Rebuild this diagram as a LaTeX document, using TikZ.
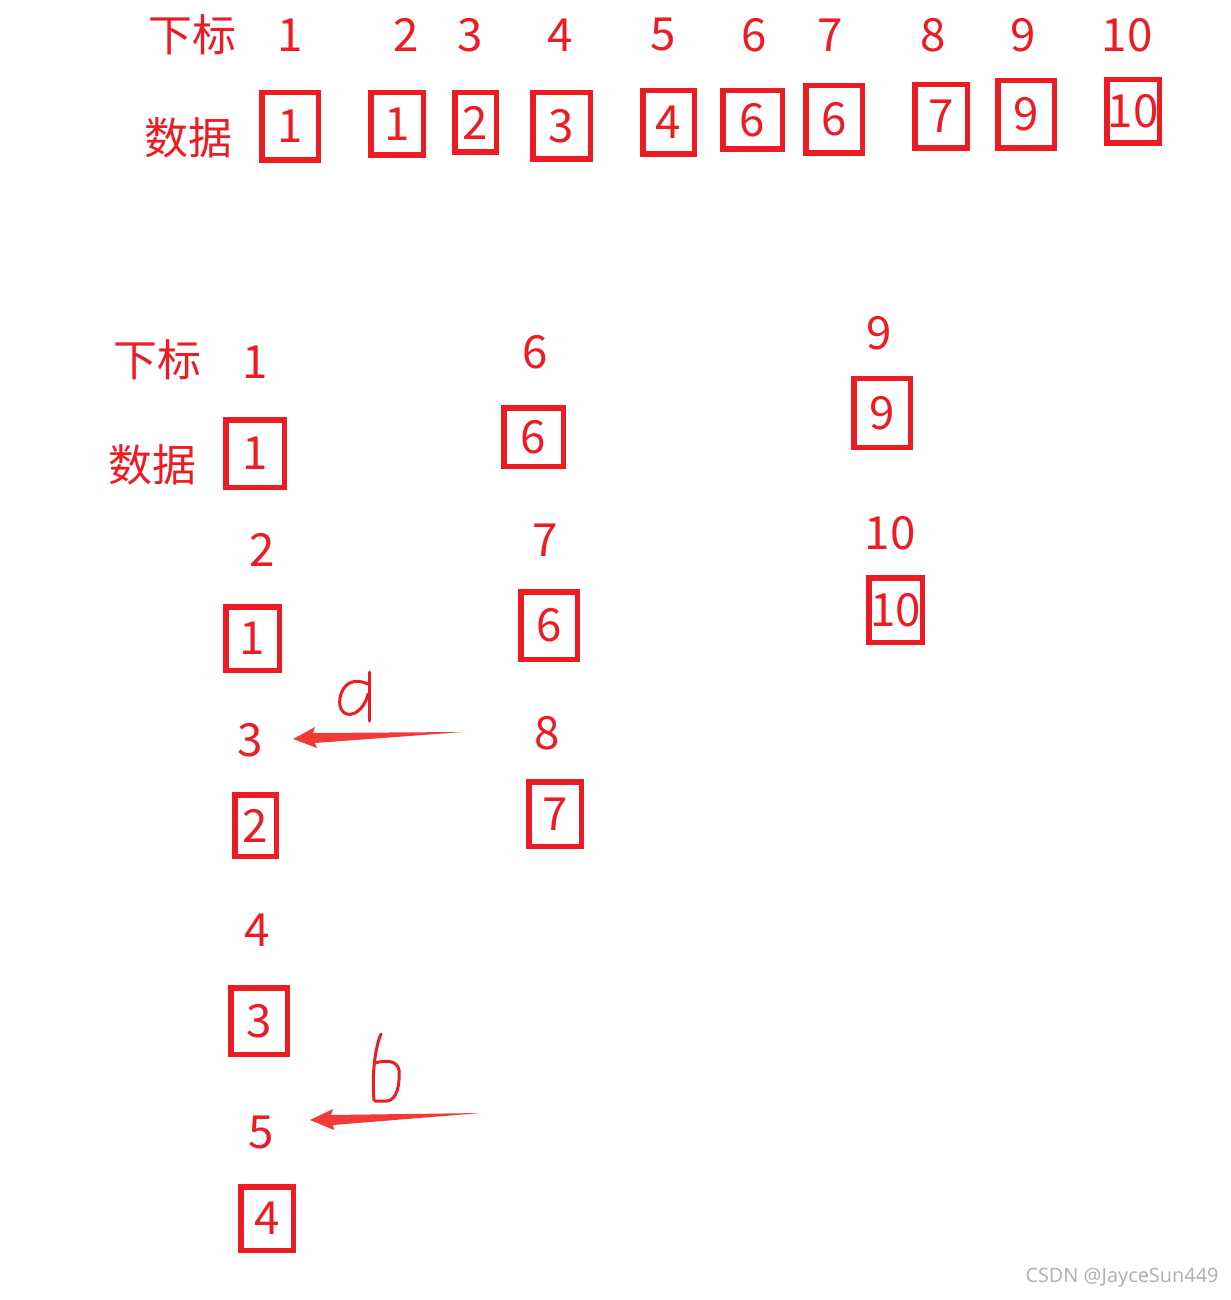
\documentclass[tikz,border=0pt]{standalone}
\usepackage{fontspec}
\newfontfamily\cjk{Noto Sans CJK SC}
\newfontfamily\wmfont{Noto Sans}
\usetikzlibrary{arrows.meta,calc}
\definecolor{paintred}{RGB}{237,28,36}
\definecolor{arrowred}{RGB}{240,58,58}
\tikzset{
	lbl/.style = {text=paintred, inner sep=0pt, font=\cjk\fontsize{26}{28}\selectfont},
	head/.style = {lbl, font=\cjk\fontsize{25}{28}\selectfont},
	cell/.style 2 args = {lbl, draw=paintred, line width=0.11cm, minimum width=(#1-1.5)*0.02cm, minimum height=(#2-1.5)*0.02cm},
	hand/.style = {draw=paintred, line width=0.06cm, line cap=round, line join=round},
	wm/.style = {text=black!30, inner sep=0pt, font=\wmfont\fontsize{11.3}{13}\selectfont}
}

\begin{document}
\begin{tikzpicture}[x=0.02cm, y=-0.02cm]
	\useasboundingbox (0,0) rectangle (1230,1300);
	% top row: index and data
	\node[head] (t0) at (192,35) {下标};
	\node[head] (d0) at (188,138) {数据};
	\node[lbl] (ti1) at (290,35) {1};
	\node[lbl] (ti2) at (406,35) {2};
	\node[lbl] (ti3) at (470,35) {3};
	\node[lbl] (ti4) at (560,35) {4};
	\node[lbl] (ti5) at (663,35) {5};
	\node[lbl] (ti6) at (754,35) {6};
	\node[lbl] (ti7) at (830,35) {7};
	\node[lbl] (ti8) at (933,35) {8};
	\node[lbl] (ti9) at (1023,35) {9};
	\node[lbl] (ti10) at (1127,35) {10};
	\node[cell={58}{69}] (td1) at (290,126.5) {1};
	\node[cell={54}{64}] (td2) at (397,124) {1};
	\node[cell={43}{61}] (td3) at (475.5,122.5) {2};
	\node[cell={59}{68}] (td4) at (561.5,126) {3};
	\node[cell={53}{65}] (td5) at (668.5,122.5) {4};
	\node[cell={61}{60}] (td6) at (752.5,120) {6};
	\node[cell={58}{69}] (td7) at (834,119.5) {6};
	\node[cell={54}{65}] (td8) at (941,116.5) {7};
	\node[cell={58}{69}] (td9) at (1026,114.5) {9};
	\node[cell={54}{65}] (td10) at (1133,111.5) {10};

	% lower part, first column
	\node[head] (b0) at (157,360) {下标};
	\node[head] (e0) at (152,465) {数据};
	\node[lbl] (i1) at (255,362) {1};
	\node[cell={60}{69}] (c1) at (255,453.5) {1};
	\node[lbl] (i2) at (262,550) {2};
	\node[cell={55}{65}] (c2) at (252.5,638.5) {1};
	\node[lbl] (i3) at (250,740) {3};
	\node[cell={43}{63}] (c3) at (255.5,825.5) {2};
	\node[lbl] (i4) at (257,930) {4};
	\node[cell={58}{68}] (c4) at (259,1021) {3};
	\node[lbl] (i5) at (261,1132) {5};
	\node[cell={54}{65}] (c5) at (267,1218.5) {4};
	% second column
	\node[lbl] (i6) at (535,352) {6};
	\node[cell={61}{60}] (c6) at (533.5,437) {6};
	\node[lbl] (i7) at (545,540) {7};
	\node[cell={58}{69}] (c7) at (549,625.5) {6};
	\node[lbl] (i8) at (547,733) {8};
	\node[cell={54}{66}] (c8) at (555,814) {7};
	% third column
	\node[lbl] (i9) at (879,333) {9};
	\node[cell={58}{70}] (c9) at (882,413) {9};
	\node[lbl] (i10) at (890,533) {10};
	\node[cell={55}{66}] (c10) at (895.5,610) {10};

	% arrows a and b
	\coordinate (tipA) at ($(i3.east)+(30,-1)$);
	\coordinate (tipB) at ($(i5.east)+(36,-12)$);
	\fill[arrowred, shift={(tipA)}] (0,0) -- (22,-12) -- (20,-6) -- (170,-7) -- (22,4) -- (24,9) -- cycle;
	\fill[arrowred, shift={(tipB)}] (0,0) -- (23,-11) -- (21,-5) -- (171,-7) -- (23,5) -- (24,10) -- cycle;
	\draw[hand] (368,684) .. controls (355,678) and (343,682) .. (340,698)
		.. controls (338,710) and (345,716) .. (352,714)
		.. controls (360,712) and (366,703) .. (368,694);
	\draw[hand] (369,672) -- (369,721);
	\draw[hand] (381,1034) .. controls (374,1050) and (372,1080) .. (374,1100);
	\draw[hand] (375,1063) .. controls (385,1060) and (397,1060) .. (399,1070)
		.. controls (400,1085) and (397,1100) .. (387,1101) -- (375,1101);

	\node[wm] (mark) at (1122,1278) {CSDN @JayceSun449};
\end{tikzpicture}
\end{document}
